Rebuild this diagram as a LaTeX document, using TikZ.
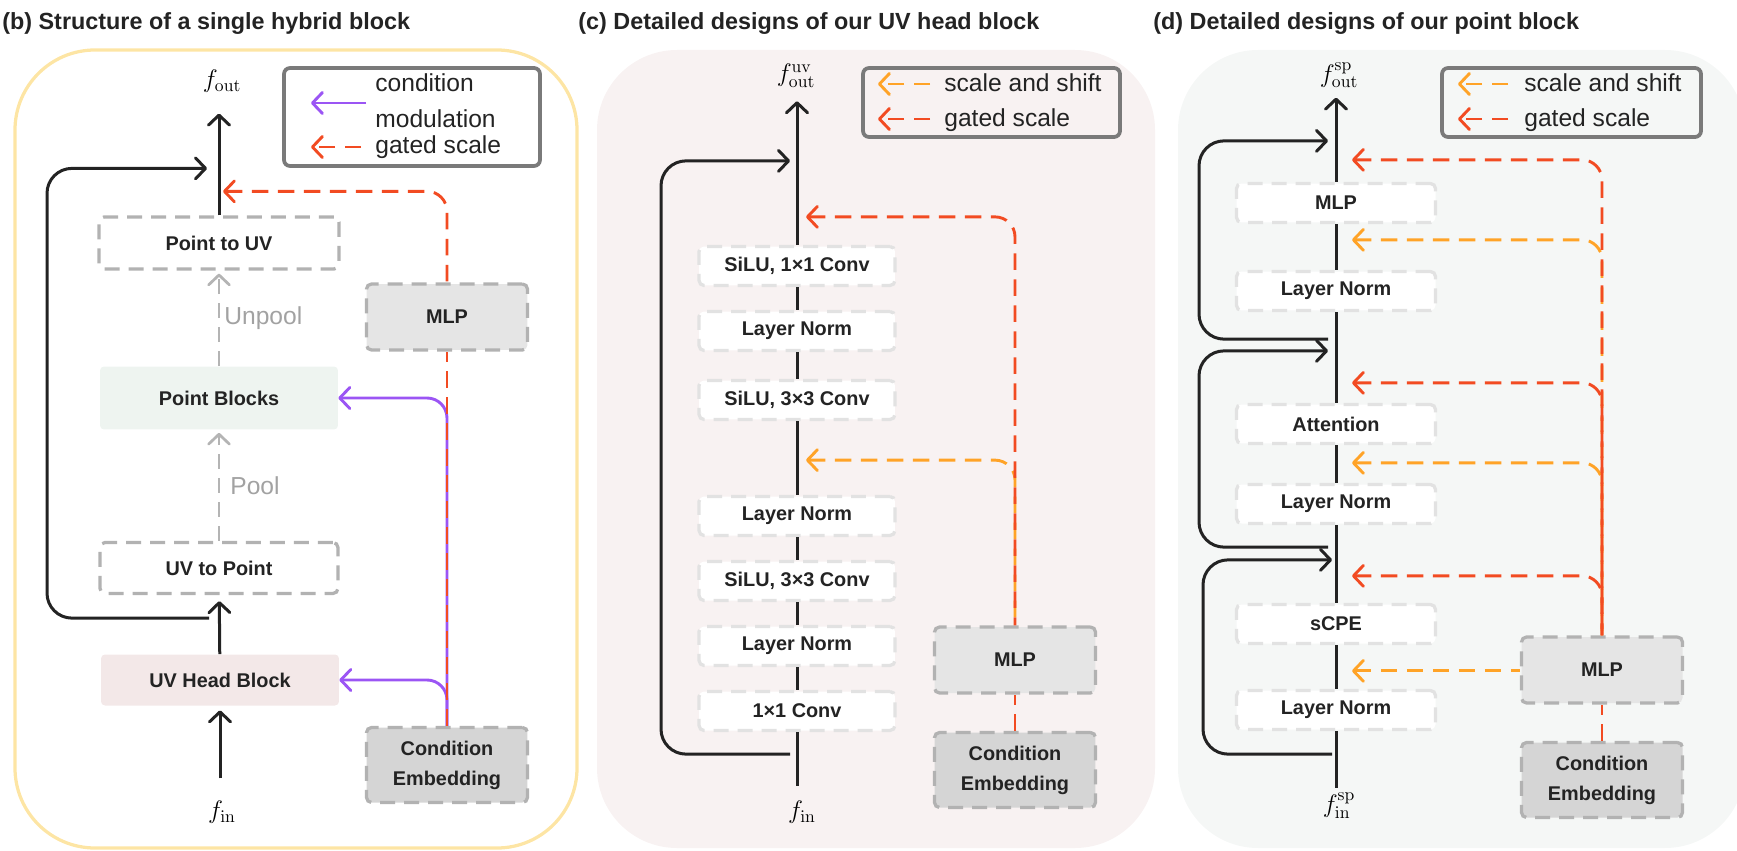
\documentclass[tikz,border=0pt]{standalone}
\usepackage[no-math]{fontspec}
\setmainfont{Liberation Sans}
\usetikzlibrary{positioning,calc,arrows.meta}

\definecolor{inkdark}{HTML}{232323}
\definecolor{gatered}{HTML}{F24B22}
\definecolor{shiftorange}{HTML}{FFA327}
\definecolor{modpurple}{HTML}{9B55F4}
\definecolor{boxgray}{HTML}{B2B2B2}
\definecolor{boxlight}{HTML}{E2E2E2}
\definecolor{mlpfill}{HTML}{E5E5E5}
\definecolor{condfill}{HTML}{D5D5D5}
\definecolor{pointfill}{HTML}{EEF4F0}
\definecolor{uvfill}{HTML}{F3E8E8}
\definecolor{panelyellow}{HTML}{FDE5A4}
\definecolor{panelpink}{HTML}{F8F2F2}
\definecolor{panelgray}{HTML}{F5F7F6}
\definecolor{legendgray}{HTML}{7A7A7A}
\definecolor{poolgray}{HTML}{B4B4B4}

\newcommand{\paneltitlefont}{\fontsize{13.3}{16}\selectfont\bfseries}
\newcommand{\blockfont}{\fontsize{11.3}{17}\selectfont\bfseries}
\newcommand{\legendfont}{\fontsize{14}{16}\selectfont}
\newcommand{\featfont}{\fontsize{14}{16}\selectfont}

\begin{document}
\begin{tikzpicture}[
      x=0.02cm, y=-0.02cm, % <-- ONE UNIT IS ONE PIXEL OF THE FIGURE
      >={Straight Barb[length=0.2cm,width=0.42cm,round]},
      trunk/.style={draw=inkdark, line width=0.06cm},
      residual/.style={trunk, rounded corners=0.5cm, ->},
      gate/.style={draw=gatered, line width=0.058cm, dash pattern=on 0.33cm off 0.19cm, rounded corners=0.4cm},
      scaleshift/.style={gate, draw=shiftorange},
      modline/.style={draw=modpurple, line width=0.058cm, rounded corners=0.4cm},
      poolarrow/.style={draw=poolgray, line width=0.055cm, dash pattern=on 0.3cm off 0.18cm, ->},
      dashbox/.style={draw=boxgray, line width=0.065cm, dash pattern=on 0.3cm off 0.18cm, rounded corners=0.1cm, text=inkdark, font=\blockfont, align=center},
      stagebox/.style={dashbox, fill=white, minimum width=4.76cm, minimum height=1.04cm},
      layerbox/.style={dashbox, draw=boxlight, fill=white, minimum height=0.78cm},
      mlpbox/.style={dashbox, fill=mlpfill, minimum width=3.22cm, minimum height=1.32cm},
      condbox/.style={dashbox, fill=condfill, minimum width=3.22cm, minimum height=1.5cm},
      solidbox/.style={rounded corners=0.08cm, text=inkdark, font=\blockfont, minimum width=4.76cm, minimum height=1.02cm},
      legendbox/.style={draw=legendgray, line width=0.075cm, rounded corners=0.12cm},
      legendtext/.style={font=\legendfont, text=inkdark, inner sep=0pt, anchor=base west},
      pooltext/.style={font=\legendfont, text=poolgray!90!black, inner sep=0pt},
      feat/.style={font=\featfont, inner sep=0pt},
      paneltitle/.style={font=\paneltitlefont, text=inkdark, inner sep=0pt, anchor=base west}
    ]
    \useasboundingbox (0,0) rectangle (1737,851);

    % Panels
    \draw[panelyellow, line width=0.065cm, rounded corners=1.6cm] (15,50) rectangle (577,848);
    \fill[panelpink, rounded corners=1.6cm] (597,50) rectangle (1155,848);
    \fill[panelgray, rounded corners=1.6cm] (1178,50) rectangle (1745,848);

    \node[paneltitle] (titleB) at (2,30) {(b) Structure of a single hybrid block};
    \node[paneltitle] (titleC) at (578,30) {(c) Detailed designs of our UV head block};
    \node[paneltitle] (titleD) at (1153,30) {(d) Detailed designs of our point block};

    % (b) hybrid block
    \node[feat] (foutB) at (222,81) {\(f_{\mathrm{out}}\)};
    \node[stagebox, minimum width=4.8cm] (p2uv) at (219,243) {Point to UV};
    \node[solidbox, fill=pointfill, minimum height=1.26cm] (pblk) at (219,398) {Point Blocks};
    \node[stagebox, minimum height=1.02cm] (uv2p) at (219,568) {UV to Point};
    \node[solidbox, fill=uvfill] (uvhead) at (220,680) {UV Head Block};
    \node[feat] (finB) at (222,812) {\(f_{\mathrm{in}}\)};

    \node[mlpbox] (mlpB) at (447,317) {MLP};
    \node[condbox] (condB) at (447,765) {Condition\\Embedding};

    \node[legendbox, minimum width=5.12cm, minimum height=1.96cm] (legB) at (412,117) {};
    \node[legendtext] (legBcond) at (375,92) {condition};
    \node[legendtext] (legBmod) at (375,128) {modulation};
    \node[legendtext] (legBgate) at (375,154) {gated scale};
    \coordinate (legBm1) at (366,103);
    \coordinate (legBm2) at (311,103);
    \coordinate (legBg1) at (361,147);
    \coordinate (legBg2) at (311,147);

    \coordinate (skBin) at ($(uv2p.south)+(-10,23)$);
    \coordinate (skBout) at ($(p2uv.north)+(-12,-47)$);
    \coordinate (gateB) at ($(p2uv.north)+(4,-24)$);

    \draw[trunk, ->, shorten <=0.44cm, shorten >=0.09cm] (finB.north -| uvhead.south) -- (uvhead.south);
    \draw[trunk, ->, shorten >=0.12cm] (uvhead) -- (uv2p);
    \draw[poolarrow, shorten >=0.06cm] (uv2p) -- node[pooltext, right=0.2cm] {Pool} (pblk);
    \draw[poolarrow, shorten >=0.06cm] (pblk) -- node[pooltext, right=0.08cm] {Unpool} (p2uv);
    \draw[trunk, ->, shorten >=0.42cm] (p2uv.north) -- (p2uv.north |- foutB.south);
    \draw[residual] (skBin) -- ++(-162,0) |- (skBout);

    \draw[modline, ->] (condB.north) |- (pblk.east);
    \draw[modline, ->] (condB.north) |- (uvhead.east);
    \draw[gate] (condB) -- (mlpB);
    \draw[gate, <-] (gateB) -| (mlpB.north);

    \draw[modline, ->] (legBm1) -- (legBm2);
    \draw[gate, ->] (legBg1) -- (legBg2);

    % (c) UV head block
    \node[feat] (foutC) at (796,76) {\(f^{\mathrm{uv}}_{\mathrm{out}}\)};
    \node[layerbox, minimum width=3.92cm] (cAct2) at (797,266) {SiLU, 1×1 Conv};
    \node[layerbox, minimum width=3.92cm] (cNorm3) at (797,331) {Layer Norm};
    \node[layerbox, minimum width=3.92cm] (cConv2) at (797,400) {SiLU, 3×3 Conv};
    \node[layerbox, minimum width=3.92cm] (cNorm2) at (797,516) {Layer Norm};
    \node[layerbox, minimum width=3.92cm] (cConv1) at (797,581) {SiLU, 3×3 Conv};
    \node[layerbox, minimum width=3.92cm] (cNorm1) at (797,646) {Layer Norm};
    \node[layerbox, minimum width=3.92cm] (cProj) at (797,711) {1×1 Conv};
    \node[feat] (finC) at (802,812) {\(f_{\mathrm{in}}\)};

    \node[mlpbox] (mlpC) at (1015,660) {MLP};
    \node[condbox] (condC) at (1015,770) {Condition\\Embedding};

    \node[legendbox, minimum width=5.14cm, minimum height=1.38cm] (legC) at (991.5,102.5) {};
    \node[legendtext] (legCshift) at (944,92) {scale and shift};
    \node[legendtext] (legCgate) at (944,127) {gated scale};
    \coordinate (legCs1) at (930,84);
    \coordinate (legCs2) at (878,84);
    \coordinate (legCg1) at (930,119);
    \coordinate (legCg2) at (878,119);

    \coordinate (skCin) at ($(cProj.south)+(-7,22)$);
    \coordinate (skCout) at ($(cAct2.north)+(-7,-84)$);
    \coordinate (gateC) at ($(cAct2.north)+(9,-28)$);
    \coordinate (shiftC) at ($(cConv2.south)+(9,39)$);

    \draw[trunk, shorten >=0.28cm] (cProj.south) -- (cProj.south |- finC.north);
    \draw[trunk] (cProj) -- (cNorm1);
    \draw[trunk] (cNorm1) -- (cConv1);
    \draw[trunk] (cConv1) -- (cNorm2);
    \draw[trunk] (cNorm2) -- (cConv2);
    \draw[trunk] (cConv2) -- (cNorm3);
    \draw[trunk] (cNorm3) -- (cAct2);
    \draw[trunk, ->, shorten >=0.26cm] (cAct2.north) -- (cAct2.north |- foutC.south);
    \draw[residual] (skCin) -- ++(-129,0) |- (skCout);

    \draw[gate] (condC) -- (mlpC);
    \draw[scaleshift, <-] (shiftC) -| (mlpC.north);
    \draw[gate, <-] (gateC) -| (mlpC.north);

    \draw[scaleshift, ->] (legCs1) -- (legCs2);
    \draw[gate, ->] (legCg1) -- (legCg2);

    % (d) point block
    \node[feat] (foutD) at (1339,75) {\(f^{\mathrm{sp}}_{\mathrm{out}}\)};
    \node[layerbox, minimum width=3.98cm] (dMlp) at (1336,203) {MLP};
    \node[layerbox, minimum width=3.98cm] (dNorm2) at (1336,291) {Layer Norm};
    \node[layerbox, minimum width=3.98cm] (dAttn) at (1336,424) {Attention};
    \node[layerbox, minimum width=3.98cm] (dNorm1) at (1336,504) {Layer Norm};
    \node[layerbox, minimum width=3.98cm] (dCpe) at (1336,624) {sCPE};
    \node[layerbox, minimum width=3.98cm] (dNorm0) at (1336,710) {Layer Norm};
    \node[feat] (finD) at (1339,806) {\(f^{\mathrm{sp}}_{\mathrm{in}}\)};

    \node[mlpbox] (mlpD) at (1602,670) {MLP};
    \node[condbox] (condD) at (1602,780) {Condition\\Embedding};

    \node[legendbox, minimum width=5.18cm, minimum height=1.38cm] (legD) at (1571.5,102.5) {};
    \node[legendtext] (legDshift) at (1524,92) {scale and shift};
    \node[legendtext] (legDgate) at (1524,127) {gated scale};
    \coordinate (legDs1) at (1508,84);
    \coordinate (legDs2) at (1458,84);
    \coordinate (legDg1) at (1508,119);
    \coordinate (legDg2) at (1458,119);

    \coordinate (skD3in) at ($(dNorm2.south)+(-8,27)$);
    \coordinate (skD3out) at ($(dMlp.north)+(-8,-41)$);
    \coordinate (skD2in) at ($(dNorm1.south)+(-8,22)$);
    \coordinate (skD2out) at ($(dAttn.north)+(-8,-52)$);
    \coordinate (skD1in) at ($(dNorm0.south)+(-4,23)$);
    \coordinate (skD1out) at ($(dCpe.north)+(-4,-43)$);

    \coordinate (gateD3) at ($(dMlp.north)+(16,-22)$);
    \coordinate (shiftD3) at ($(dNorm2.north)+(16,-30)$);
    \coordinate (gateD2) at ($(dAttn.north)+(16,-20)$);
    \coordinate (shiftD2) at ($(dNorm1.north)+(16,-20)$);
    \coordinate (gateD1) at ($(dCpe.north)+(16,-27)$);
    \coordinate (shiftD1) at ($(dNorm0.north)+(16,-18)$);

    \draw[trunk, shorten >=0.1cm] (dNorm0.south) -- (dNorm0.south |- finD.north);
    \draw[trunk] (dNorm0) -- (dCpe);
    \draw[trunk] (dCpe) -- (dNorm1);
    \draw[trunk] (dNorm1) -- (dAttn);
    \draw[trunk] (dAttn) -- (dNorm2);
    \draw[trunk] (dNorm2) -- (dMlp);
    \draw[trunk, ->, shorten >=0.2cm] (dMlp.north) -- (dMlp.north |- foutD.south);
    \draw[residual] (skD3in) -- ++(-129,0) |- (skD3out);
    \draw[residual] (skD2in) -- ++(-129,0) |- (skD2out);
    \draw[residual] (skD1in) -- ++(-129,0) |- (skD1out);

    \draw[gate] (condD) -- (mlpD);
    \draw[scaleshift, <-] (shiftD1) -- (shiftD1 -| mlpD.west);
    \draw[scaleshift, <-] (shiftD2) -| (mlpD.north);
    \draw[scaleshift, <-] (shiftD3) -| (mlpD.north);
    \draw[gate, <-] (gateD1) -| (mlpD.north);
    \draw[gate, <-] (gateD2) -| (mlpD.north);
    \draw[gate, <-] (gateD3) -| (mlpD.north);

    \draw[scaleshift, ->] (legDs1) -- (legDs2);
    \draw[gate, ->] (legDg1) -- (legDg2);

  \end{tikzpicture}
\end{document}
